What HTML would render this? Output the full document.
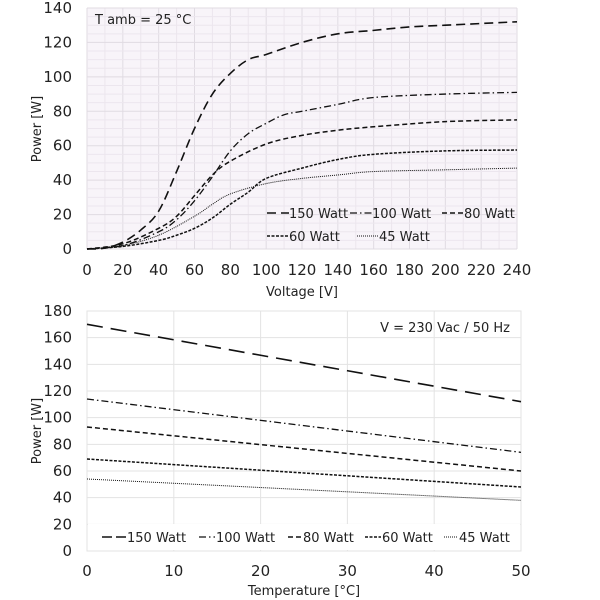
<!DOCTYPE html>
<html><head><meta charset="utf-8"><style>
html,body{margin:0;padding:0;background:#fff;width:600px;height:600px;overflow:hidden}
svg{display:block}
text{font-family:"DejaVu Sans","Liberation Sans",sans-serif;fill:#222}
</style></head><body>
<svg id="s" width="600" height="600" xmlns="http://www.w3.org/2000/svg"></svg>
<script>
const S=document.getElementById('s');let h='';
const tx=v=>87+v*(430/240), ty=p=>249-p*(241/140);
h+=`<rect x="87" y="8" width="430" height="241" fill="#f8f4f9"/>`;
for(let v=0;v<=240;v+=10){h+=`<line x1="${tx(v)}" y1="8" x2="${tx(v)}" y2="249" stroke="${v%20?'#ece6ee':'#e0dbe2'}" stroke-width="1"/>`;}
for(let p=0;p<=140;p+=5){h+=`<line x1="87" y1="${ty(p)}" x2="517" y2="${ty(p)}" stroke="${p%20?'#ece6ee':'#e0dbe2'}" stroke-width="1"/>`;}
for(let v=0;v<=240;v+=20)h+=`<text x="${tx(v)}" y="275" font-size="15" text-anchor="middle">${v}</text>`;
for(let p=0;p<=140;p+=20)h+=`<text x="72" y="${ty(p)+5}" font-size="15" text-anchor="end">${p}</text>`;
h+=`<text x="302" y="296" font-size="13" text-anchor="middle">Voltage  [V]</text>`;
h+=`<text x="0" y="0" font-size="13" text-anchor="middle" transform="translate(41,129) rotate(-90)">Power [W]</text>`;
h+=`<text x="95" y="24" font-size="13">T amb = 25 °C</text>`;
function sm(pts){let d=`M${pts[0][0]},${pts[0][1]}`;for(let i=0;i<pts.length-1;i++){const p0=pts[i-1]||pts[i],p1=pts[i],p2=pts[i+1],p3=pts[i+2]||p2;d+=` C${p1[0]+(p2[0]-p0[0])/6},${p1[1]+(p2[1]-p0[1])/6} ${p2[0]-(p3[0]-p1[0])/6},${p2[1]-(p3[1]-p1[1])/6} ${p2[0]},${p2[1]}`;}return d;}
const st={150:'9,5',100:'7,3,1.5,3',80:'5,3',60:'3,1.5',45:'1,1'};
const sw={150:1.6,100:1.3,80:1.5,60:1.5,45:1};
const T={150:[[0,0],[10,.5],[20,4],[30,11],[40,22],[50,45],[60,70],[70,90],[80,102],[90,110],[100,113],[120,120],[140,125],[160,127],[180,129],[200,130],[240,132]],
100:[[0,0],[20,2],[40,10],[50,17],[60,28],[70,42],[80,57],[90,67],[100,73],[110,78],[120,80],[140,84],[160,88],[200,90],[240,91]],
80:[[0,0],[20,3],[40,12],[50,19],[60,31],[70,43],[80,51],[100,61],[120,66],[140,69],[160,71],[200,74],[240,75]],
60:[[0,0],[20,1.5],[40,5],[50,8],[60,12],[70,18],[80,26],[90,33],[100,41],[120,47],[140,52],[160,55],[200,57],[240,57.5]],
45:[[0,0],[20,2],[40,8],[60,19],[70,26],[80,32],[100,38],[120,41],[140,43],[160,45],[200,46],[240,47]]};
for(const k in T){h+=`<path d="${sm(T[k].map(a=>[tx(a[0]),ty(a[1])]))}" fill="none" stroke="#111" stroke-width="${sw[k]}" stroke-dasharray="${st[k]}"/>`;}
function leg2(x,y,k,lab){h+=`<line x1="${x}" y1="${y}" x2="${x+22}" y2="${y}" stroke="#111" stroke-width="${sw[k]}" stroke-dasharray="${st[k]}"/><text x="${x+22}" y="${y+5}" font-size="13">${lab}</text>`;}
leg2(267,213,150,'150 Watt');leg2(350,213,100,'100 Watt');leg2(442,213,80,' 80 Watt');
leg2(267,236,60,'60 Watt');leg2(357,236,45,' 45 Watt');
const bx=t=>87+t*(434/50), by=p=>551-p*(240/180);
h+=`<rect x="87" y="311" width="434" height="240" fill="#fff" stroke="#e3e3e3"/>`;
for(let t=0;t<=50;t+=10)h+=`<line x1="${bx(t)}" y1="311" x2="${bx(t)}" y2="551" stroke="#e3e3e3"/>`;
for(let p=0;p<=180;p+=20)h+=`<line x1="87" y1="${by(p)}" x2="521" y2="${by(p)}" stroke="#e3e3e3"/>`;
for(let t=0;t<=50;t+=10)h+=`<text x="${bx(t)}" y="576" font-size="15" text-anchor="middle">${t}</text>`;
for(let p=0;p<=180;p+=20)h+=`<text x="72" y="${by(p)+5}" font-size="15" text-anchor="end">${p}</text>`;
h+=`<text x="304" y="595" font-size="13" text-anchor="middle">Temperature [°C]</text>`;
h+=`<text font-size="13" text-anchor="middle" transform="translate(41,431) rotate(-90)">Power [W]</text>`;
h+=`<text x="510" y="332" font-size="13" text-anchor="end">V = 230 Vac / 50 Hz</text>`;
const B={150:[170,112],100:[114,74],80:[93,60],60:[69,48],45:[54,38]};
for(const k in B)h+=`<line x1="${bx(0)}" y1="${by(B[k][0])}" x2="${bx(50)}" y2="${by(B[k][1])}" stroke="#111" stroke-width="${sw[k]}" stroke-dasharray="${k==150?'16,8':st[k]}"/>`;
h+=`<rect x="88" y="524" width="432" height="26" fill="#fff"/>`;
function leg3(x,k,lab,w){h+=`<line x1="${x}" y1="537" x2="${x+w}" y2="537" stroke="#111" stroke-width="${sw[k]}" stroke-dasharray="${k==150?'10,4':st[k]}"/><text x="${x+w+1}" y="542" font-size="13">${lab}</text>`;}
leg3(102,150,'150 Watt',24);leg3(199,100,'100 Watt',16);leg3(288,80,' 80 Watt',14);leg3(365,60,'60 Watt',16);leg3(444,45,' 45 Watt',14);
S.innerHTML=h;
</script>
</body></html>
